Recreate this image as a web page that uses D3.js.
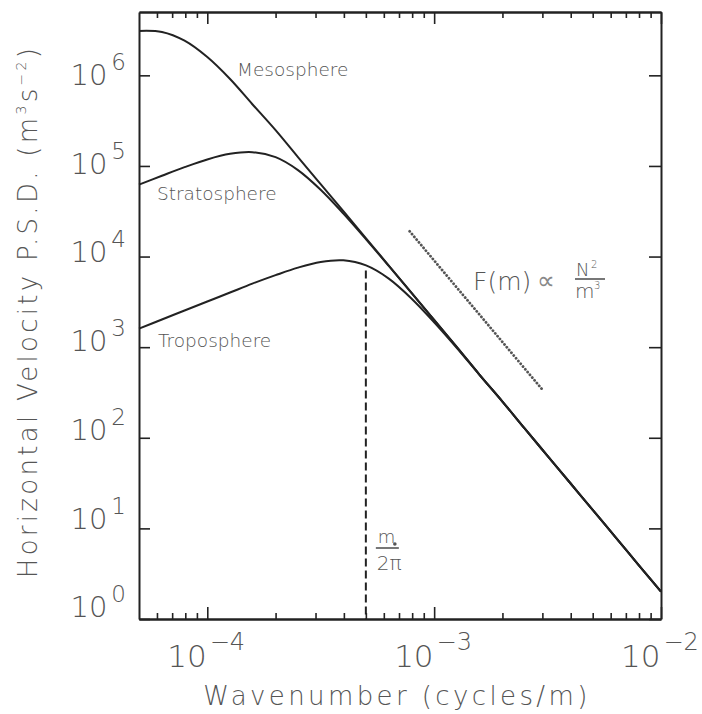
<!DOCTYPE html>
<html>
<head>
<meta charset="utf-8">
<script src="https://cdn.jsdelivr.net/npm/d3@7"></script>
<style>
  body { margin: 0; background: #fff; }
  text { font-family: "DejaVu Sans", sans-serif; font-weight: 200; fill: #555; }
  .axis path, .axis line { stroke: #222; }
</style>
</head>
<body>
<svg id="chart" width="702" height="714"></svg>
<script>
// values
var wavenumber = [5.0e-5, 6.31e-5, 7.94e-5, 1.0e-4, 1.26e-4, 1.58e-4, 2.0e-4, 2.51e-4, 3.16e-4, 3.98e-4, 5.01e-4, 6.31e-4,
                  7.94e-4, 1.0e-3, 1.26e-3, 1.58e-3, 2.0e-3, 2.51e-3, 3.16e-3, 3.98e-3, 5.01e-3, 6.31e-3, 7.94e-3, 1.0e-2];
var mesosphere   = [3.09e6, 3.01e6, 2.41e6, 1.59e6, 9.1e5, 4.8e5, 2.48e5, 1.25e5, 6.3e4, 3.17e4, 1.59e4, 7960,
                    3990, 2000, 1000, 502, 251, 126, 63.2, 31.7, 15.9, 7.96, 3.99, 2.0];
var stratosphere = [6.22e4, 7.8e4, 9.7e4, 1.18e5, 1.36e5, 1.42e5, 1.25e5, 9.0e4, 5.46e4, 2.98e4, 1.55e4, 7880,
                    3975, 1996, 1001, 502, 251, 126, 63.2, 31.7, 15.9, 7.96, 3.99, 2.0];
var troposphere  = [1600, 2020, 2540, 3190, 4010, 5020, 6230, 7550, 8720, 9080, 7980, 5710,
                    3450, 1883, 978, 498, 251, 126, 63.2, 31.7, 15.9, 7.96, 3.99, 2.0];

var slopeM = [7.8e-4, 3.0e-3];     // dotted m^-3 reference line
var slopeF = [1.9e4, 340];
var mStar = 5.0e-4;                // m*/2pi
var mStarTop = 7000;

var xMajor = [1e-4, 1e-3, 1e-2];
var xExp = ["\u22124", "\u22123", "\u22122"];
var xMinor = [6e-5, 7e-5, 8e-5, 9e-5, 2e-4, 3e-4, 4e-4, 5e-4, 6e-4, 7e-4, 8e-4, 9e-4,
              2e-3, 3e-3, 4e-3, 5e-3, 6e-3, 7e-3, 8e-3, 9e-3];
var yMajor = [1, 10, 100, 1e3, 1e4, 1e5, 1e6];
var yExp = ["0", "1", "2", "3", "4", "5", "6"];

var margin = {top: 12, right: 41, bottom: 95, left: 139},
    width = 702 - margin.left - margin.right,
    height = 714 - margin.top - margin.bottom;

var svg = d3.select("#chart")
  .append("g")
    .attr("transform", "translate(" + margin.left + "," + margin.top + ")");

var x = d3.scaleLog().domain([5e-5, 1e-2]).range([0, width]);
var y = d3.scaleLog().domain([1, 5e6]).range([height, 0]);

function addAxis(axis, tx, ty) {
  var g = svg.append("g")
      .attr("class", "axis")
      .attr("transform", "translate(" + tx + "," + ty + ")")
      .call(axis);
  g.selectAll("path").attr("stroke-width", 2);
  g.selectAll("line").attr("stroke-width", 1.6);
  g.selectAll("text").remove();
  return g;
}

// bottom & top: major + minor ticks pointing inward
addAxis(d3.axisBottom(x).tickValues(xMajor).tickSize(-12).tickSizeOuter(0), 0, height);
addAxis(d3.axisBottom(x).tickValues(xMinor).tickSize(-6).tickSizeOuter(0), 0, height);
addAxis(d3.axisTop(x).tickValues(xMajor).tickSize(-12).tickSizeOuter(0), 0, 0);
addAxis(d3.axisTop(x).tickValues(xMinor).tickSize(-6).tickSizeOuter(0), 0, 0);
addAxis(d3.axisLeft(y).tickValues(yMajor).tickSize(-11).tickSizeOuter(0), 0, 0);
addAxis(d3.axisRight(y).tickValues(yMajor).tickSize(-12).tickSizeOuter(0), width, 0);

// tick labels 10^n
xMajor.forEach(function(v, i) {
  var t = svg.append("text")
      .attr("x", x(v) - 40)
      .attr("y", height + 48)
      .style("font-size", "31px");
  t.append("tspan").text("10");
  t.append("tspan").attr("dx", 3).attr("dy", -17).style("font-size", "24px").text(xExp[i]);
});

yMajor.forEach(function(v, i) {
  var t = svg.append("text")
      .attr("x", -13)
      .attr("y", 73 + (6 - i) * 88.7)
      .attr("text-anchor", "end")
      .style("font-size", "29px");
  t.append("tspan").text("10");
  t.append("tspan").attr("dx", 4).attr("dy", -15).style("font-size", "23px").text(yExp[i]);
});

// axis titles
svg.append("text")
    .attr("x", width / 2 - 3)
    .attr("y", height + 86)
    .attr("text-anchor", "middle")
    .style("font-size", "26px")
    .style("letter-spacing", "3.4px")
    .text("Wavenumber (cycles/m)");

var yt = svg.append("text")
    .attr("transform", "translate(" + (-102) + "," + (height / 2 - 4) + ") rotate(-90)")
    .attr("text-anchor", "middle")
    .style("font-size", "26px")
    .style("letter-spacing", "3.3px");
yt.append("tspan").text("Horizontal Velocity P.S.D. (m");
yt.append("tspan").attr("dy", -11).style("font-size", "14px").text("3");
yt.append("tspan").attr("dy", 11).text("s");
yt.append("tspan").attr("dy", -11).style("font-size", "14px").text("\u22122");
yt.append("tspan").attr("dy", 11).text(")");

// curves
var line = d3.line()
    .x(function(d) { return x(d[0]); })
    .y(function(d) { return y(d[1]); })
    .curve(d3.curveCatmullRom.alpha(0.5));

[mesosphere, stratosphere, troposphere].forEach(function(s) {
  svg.append("path")
      .datum(d3.zip(wavenumber, s))
      .attr("d", line)
      .attr("fill", "none")
      .attr("stroke", "#222")
      .attr("stroke-width", 2);
});

// dotted slope line
svg.append("path")
    .datum(d3.zip(slopeM, slopeF))
    .attr("d", d3.line().x(function(d) { return x(d[0]); }).y(function(d) { return y(d[1]); }))
    .attr("fill", "none")
    .attr("stroke", "#555")
    .attr("stroke-width", 2.8)
    .attr("stroke-linecap", "round")
    .attr("stroke-dasharray", "0.1,3.5");

// dashed m*/2pi line
svg.append("line")
    .attr("x1", x(mStar)).attr("x2", x(mStar))
    .attr("y1", y(mStarTop)).attr("y2", height)
    .attr("stroke", "#222")
    .attr("stroke-width", 2)
    .attr("stroke-dasharray", "8,4");

// curve labels
svg.append("text").attr("x", 98).attr("y", 64).style("font-size", "18.5px").text("Mesosphere");
svg.append("text").attr("x", 18).attr("y", 188).style("font-size", "18.5px").text("Stratosphere");
svg.append("text").attr("x", 19).attr("y", 335).style("font-size", "18.5px").text("Troposphere");

// m*/2pi label
var fx = x(mStar) + 10;
svg.append("text").attr("x", fx + 2).attr("y", 531).style("font-size", "18px").text("m");
svg.append("circle").attr("cx", fx + 19).attr("cy", 532).attr("r", 1.8).attr("fill", "#555");
svg.append("line").attr("x1", fx).attr("x2", fx + 23).attr("y1", 536).attr("y2", 536)
    .attr("stroke", "#555").attr("stroke-width", 1.6);
svg.append("text").attr("x", fx + 1).attr("y", 558).style("font-size", "20px").text("2\u03c0");

// F(m) label
svg.append("text").attr("x", 334).attr("y", 278).style("font-size", "25px").text("F(m)");
svg.append("text").attr("x", 398).attr("y", 277).style("font-size", "25px").style("fill", "#888").text("\u221d");
svg.append("text").attr("x", 437).attr("y", 264).style("font-size", "18px").text("N");
svg.append("text").attr("x", 452).attr("y", 256).style("font-size", "10px").text("2");
svg.append("line").attr("x1", 436).attr("x2", 466).attr("y1", 267).attr("y2", 267)
    .attr("stroke", "#555").attr("stroke-width", 1.6);
svg.append("text").attr("x", 436).attr("y", 286).style("font-size", "20px").text("m");
svg.append("text").attr("x", 455).attr("y", 277).style("font-size", "10px").text("3");
</script>
</body>
</html>
